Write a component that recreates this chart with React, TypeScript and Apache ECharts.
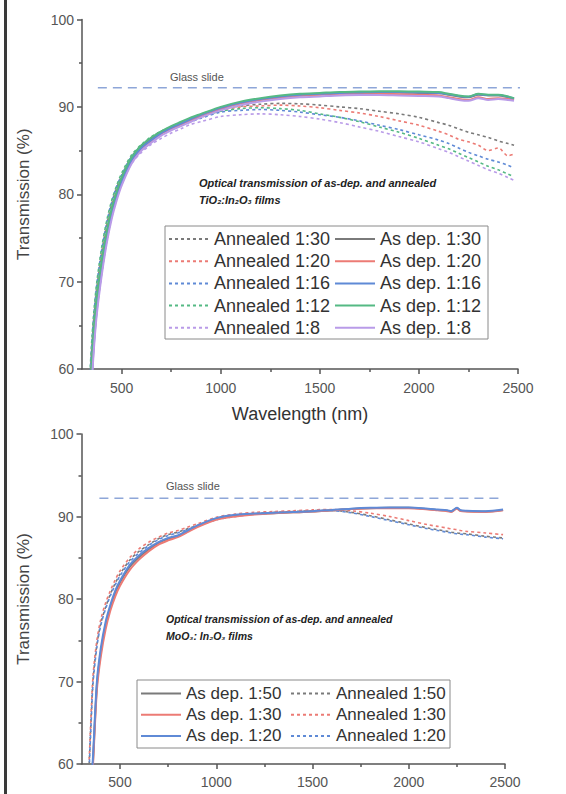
import React, { useEffect, useRef } from "react";
import * as echarts from "echarts";

// ---------- Top chart (TiO2:In2O3) ----------
const wlTop = [340, 350, 360, 375, 400, 425, 450, 475, 500, 550, 600, 650, 700, 750, 800, 850, 900, 1000, 1100, 1200, 1300, 1400, 1500, 1600, 1700, 1800, 1900, 2000, 2100, 2150, 2200, 2250, 2300, 2350, 2400, 2450, 2480];

const topAnn130 = [58.5, 62.5, 65.8, 69.3, 73.4, 76.5, 78.9, 80.7, 82.1, 84.3, 85.6, 86.5, 87.2, 87.7, 88.1, 88.5, 88.9, 89.7, 90.1, 90.3, 90.4, 90.35, 90.2, 90.0, 89.8, 89.5, 89.2, 88.8, 88.2, 87.9, 87.5, 87.1, 86.8, 86.5, 86.1, 85.8, 85.6];
const topAnn120 = [58.0, 62.0, 65.3, 68.9, 73.0, 76.2, 78.6, 80.5, 81.9, 84.1, 85.4, 86.3, 87.0, 87.5, 88.0, 88.4, 88.8, 89.6, 90.0, 90.1, 90.2, 90.1, 89.9, 89.6, 89.3, 88.9, 88.4, 87.9, 87.2, 86.8, 86.3, 86.0, 85.6, 85.0, 85.3, 84.4, 84.6];
const topAnn116 = [59.0, 63.0, 66.2, 69.7, 73.7, 76.8, 79.1, 80.9, 82.2, 84.3, 85.5, 86.4, 87.0, 87.5, 87.9, 88.3, 88.7, 89.4, 89.6, 89.7, 89.6, 89.4, 89.1, 88.8, 88.4, 87.9, 87.4, 86.8, 86.2, 85.8, 85.3, 84.8, 84.4, 84.0, 83.7, 83.3, 83.0];
const topAnn112 = [59.5, 63.5, 66.6, 70.0, 74.0, 77.0, 79.3, 81.0, 82.4, 84.5, 85.7, 86.6, 87.2, 87.7, 88.1, 88.5, 88.9, 89.5, 89.8, 89.9, 89.8, 89.6, 89.2, 88.8, 88.3, 87.7, 87.1, 86.4, 85.6, 85.2, 84.7, 84.2, 83.7, 83.2, 82.8, 82.3, 82.0];
const topAnn18 = [57.5, 61.5, 64.8, 68.4, 72.5, 75.7, 78.1, 79.9, 81.3, 83.5, 84.8, 85.7, 86.4, 87.0, 87.5, 88.0, 88.3, 88.9, 89.1, 89.2, 89.1, 88.9, 88.6, 88.2, 87.7, 87.2, 86.6, 86.0, 85.2, 84.8, 84.3, 83.8, 83.3, 82.8, 82.4, 81.9, 81.6];

const topDep130 = [56.0, 60.5, 64.0, 67.8, 72.0, 75.3, 78.0, 80.0, 81.6, 84.0, 85.4, 86.3, 87.0, 87.6, 88.1, 88.6, 89.0, 89.8, 90.4, 90.8, 91.1, 91.3, 91.45, 91.55, 91.6, 91.65, 91.65, 91.6, 91.55, 91.4, 91.2, 91.1, 91.4, 91.3, 91.3, 91.1, 90.9];
const topDep120 = [55.0, 59.5, 63.2, 67.0, 71.3, 74.8, 77.5, 79.6, 81.2, 83.7, 85.2, 86.1, 86.9, 87.5, 88.0, 88.5, 89.0, 89.8, 90.4, 90.8, 91.1, 91.3, 91.4, 91.5, 91.5, 91.5, 91.45, 91.4, 91.3, 91.1, 90.9, 90.8, 91.1, 90.9, 91.0, 90.9, 90.8];
const topDep116 = [54.5, 59.0, 62.8, 66.8, 71.2, 74.8, 77.6, 79.7, 81.4, 83.9, 85.3, 86.2, 87.0, 87.6, 88.1, 88.6, 89.1, 89.9, 90.5, 90.9, 91.2, 91.4, 91.5, 91.6, 91.65, 91.7, 91.7, 91.65, 91.6, 91.45, 91.25, 91.15, 91.45, 91.35, 91.35, 91.15, 90.95];
const topDep112 = [56.5, 61.0, 64.5, 68.3, 72.5, 75.8, 78.4, 80.3, 81.9, 84.2, 85.6, 86.5, 87.2, 87.8, 88.3, 88.8, 89.2, 90.0, 90.6, 91.0, 91.3, 91.5, 91.6, 91.7, 91.75, 91.8, 91.8, 91.75, 91.7, 91.5, 91.3, 91.2, 91.5, 91.4, 91.4, 91.2, 91.0];
const topDep18 = [54.0, 58.5, 62.3, 66.3, 70.8, 74.4, 77.2, 79.3, 81.0, 83.5, 85.0, 85.9, 86.7, 87.3, 87.8, 88.3, 88.8, 89.6, 90.2, 90.6, 90.9, 91.1, 91.2, 91.3, 91.35, 91.35, 91.3, 91.25, 91.2, 91.0, 90.8, 90.7, 91.0, 90.8, 90.9, 90.8, 90.7];

const topGlassX = [380, 2570];
const topGlassY = [92.2, 92.2];

// ---------- Bottom chart (MoO3:In2O3) ----------
const wlBot = [340, 350, 360, 380, 400, 425, 450, 475, 500, 550, 600, 650, 700, 750, 800, 850, 900, 1000, 1100, 1200, 1300, 1400, 1500, 1600, 1700, 1800, 1900, 2000, 2100, 2150, 2200, 2220, 2250, 2270, 2300, 2400, 2490];

const botDep150 = [52.0, 56.5, 60.5, 69.5, 73.5, 76.8, 79.0, 80.7, 82.0, 83.9, 85.1, 86.0, 86.8, 87.3, 87.6, 88.2, 88.8, 89.7, 90.1, 90.3, 90.4, 90.5, 90.6, 90.75, 90.9, 91.0, 91.05, 91.05, 90.9, 90.8, 90.7, 90.6, 91.0, 90.7, 90.65, 90.6, 90.8];
const botDep130 = [51.5, 56.0, 60.0, 69.0, 73.0, 76.3, 78.6, 80.3, 81.6, 83.5, 84.8, 85.8, 86.6, 87.1, 87.5, 88.1, 88.7, 89.6, 90.0, 90.25, 90.4, 90.5, 90.6, 90.75, 90.9, 91.0, 91.0, 91.0, 90.85, 90.75, 90.65, 90.55, 90.95, 90.65, 90.6, 90.55, 90.75];
const botDep120 = [52.5, 57.0, 61.0, 70.0, 74.0, 77.2, 79.3, 81.0, 82.2, 84.1, 85.3, 86.2, 86.9, 87.4, 87.7, 88.3, 88.9, 89.8, 90.2, 90.35, 90.45, 90.55, 90.65, 90.8, 90.95, 91.05, 91.1, 91.1, 90.95, 90.85, 90.75, 90.65, 91.05, 90.75, 90.7, 90.65, 90.85];

const botAnn150 = [60.0, 65.5, 70.2, 74.5, 77.0, 79.0, 80.6, 81.9, 83.0, 84.7, 85.8, 86.6, 87.3, 87.8, 88.1, 88.5, 88.9, 89.7, 90.1, 90.35, 90.5, 90.6, 90.7, 90.75, 90.5, 90.1, 89.6, 89.1, 88.6, 88.4, 88.2, 88.1, 88.0, 87.95, 87.9, 87.6, 87.4];
const botAnn130 = [60.5, 66.0, 70.7, 75.0, 77.5, 79.5, 81.0, 82.3, 83.4, 85.0, 86.1, 86.9, 87.5, 88.0, 88.3, 88.7, 89.1, 89.9, 90.3, 90.5, 90.6, 90.7, 90.8, 90.85, 90.7, 90.4, 90.0, 89.5, 89.0, 88.8, 88.6, 88.5, 88.4, 88.3, 88.2, 88.0, 87.8];
const botAnn120 = [59.5, 65.0, 69.8, 74.2, 76.8, 78.8, 80.4, 81.7, 82.8, 84.5, 85.6, 86.5, 87.2, 87.7, 88.0, 88.4, 88.8, 89.6, 90.0, 90.3, 90.45, 90.55, 90.65, 90.7, 90.45, 90.0, 89.5, 89.0, 88.5, 88.3, 88.1, 88.0, 87.9, 87.85, 87.8, 87.5, 87.3];

const botGlassX = [393, 2470];
const botGlassY = [92.2, 92.2];

// ---------- Axis tick labels / legend names ----------
const xLabels = [500, 1000, 1500, 2000, 2500];
const xMinor = [750, 1250, 1750, 2250];
const topLegendAnn = ["Annealed 1:30", "Annealed 1:20", "Annealed 1:16", "Annealed 1:12", "Annealed 1:8"];
const topLegendDep = ["As dep. 1:30", "As dep. 1:20", "As dep. 1:16", "As dep. 1:12", "As dep. 1:8"];
const botLegendDep = ["As dep. 1:50", "As dep. 1:30", "As dep. 1:20"];
const botLegendAnn = ["Annealed 1:50", "Annealed 1:30", "Annealed 1:20"];
const BOT = "MoO3 ";

const FONT = "'Liberation Sans', Arial, sans-serif";
const AX = "#555";

const C = {
  gray: "#7a7a7a",
  red: "#ec7b75",
  blue: "#5f8ad6",
  green: "#55b984",
  purple: "#b99be8",
  glass: "#8ea6d8",
};

function pair(xs: number[], ys: number[]) {
  return xs.map((x, i) => [x, ys[i]]);
}

function line(name: string, grid: number, xs: number[], ys: number[], color: string, dashed: boolean) {
  return {
    type: "line",
    name,
    xAxisIndex: grid === 0 ? 0 : 2,
    yAxisIndex: grid,
    data: pair(xs, ys),
    symbol: "none",
    showSymbol: false,
    smooth: 0.3,
    lineStyle: { color, width: dashed ? 1.6 : 2, type: dashed ? [3, 3] : "solid" },
    itemStyle: { color },
    z: dashed ? 2 : 3,
  };
}

function xAxisMain(grid: number, name: string, labelMargin: number) {
  return {
    gridIndex: grid,
    type: "value",
    min: 300,
    max: 2500,
    position: "bottom",
    axisLine: { show: true, lineStyle: { color: AX, width: 1.5 } },
    axisTick: { show: true, customValues: xLabels, length: 5, lineStyle: { color: AX, width: 1.5 } },
    axisLabel: { customValues: xLabels, fontSize: 14, color: "#555", margin: labelMargin, fontFamily: FONT, formatter: (v: number) => String(v) },
    splitLine: { show: false },
    name,
    nameLocation: "middle",
    nameGap: 36,
    nameTextStyle: { fontSize: 18, color: "#333", fontFamily: FONT },
  };
}

function xAxisMinor(grid: number) {
  return {
    gridIndex: grid,
    type: "value",
    min: 300,
    max: 2500,
    position: "bottom",
    axisLine: { show: false },
    axisTick: { show: true, customValues: xMinor, length: 3, lineStyle: { color: AX, width: 1.5 } },
    axisLabel: { show: false },
    splitLine: { show: false },
  };
}

function yAxis(grid: number) {
  return {
    gridIndex: grid,
    type: "value",
    min: 60,
    max: 100,
    interval: 10,
    axisLine: { show: true, lineStyle: { color: AX, width: 1.5 } },
    axisTick: { show: true, length: 5, lineStyle: { color: AX, width: 1.5 } },
    minorTick: { show: true, splitNumber: 2, length: 3, lineStyle: { color: AX, width: 1.5 } },
    axisLabel: { fontSize: 14, color: "#555", margin: 8, fontFamily: FONT },
    splitLine: { show: false },
    minorSplitLine: { show: false },
    name: "Transmission (%)",
    nameLocation: "middle",
    nameGap: 50,
    nameTextStyle: { fontSize: 17, color: "#444", fontFamily: FONT },
  };
}

function legend(data: string[], left: number, top: number, h: number, fs: number, strip: boolean) {
  return {
    data,
    orient: "vertical",
    left,
    top,
    padding: 0,
    itemWidth: 40,
    itemHeight: h,
    itemGap: 0.2,
    selectedMode: false,
    itemStyle: { opacity: 0, borderWidth: 0 },
    formatter: strip ? (n: string) => n.replace(BOT, "") : undefined,
    textStyle: { fontSize: fs, lineHeight: h, color: "#333", fontFamily: FONT },
  };
}

function glass(grid: number, xs: number[], ys: number[]) {
  return {
    type: "line",
    name: "Glass slide " + grid,
    xAxisIndex: grid === 0 ? 0 : 2,
    yAxisIndex: grid,
    data: pair(xs, ys),
    symbol: "none",
    clip: false,
    lineStyle: { color: C.glass, width: 1.5, type: [9, 6] },
    z: 1,
  };
}

const boldItalic = { fontWeight: "bold", fontStyle: "italic", fill: "#222", fontFamily: FONT, verticalAlign: "middle" };

const option = {
  animation: false,
  backgroundColor: "#fff",
  grid: [
    { left: 82, top: 19.5, width: 436, height: 349.5 },
    { left: 81.5, top: 434, width: 423.5, height: 330 },
  ],
  xAxis: [
    xAxisMain(0, "Wavelength (nm)", 12),
    xAxisMinor(0),
    xAxisMain(1, "", 11),
    xAxisMinor(1),
  ],
  yAxis: [yAxis(0), yAxis(1)],
  legend: [
    legend(topLegendAnn, 168, 228, 22, 18, false),
    legend(topLegendDep, 334, 228, 22, 18, false),
    legend(botLegendDep.map((n) => BOT + n), 140, 683, 21, 17, true),
    legend(botLegendAnn.map((n) => BOT + n), 290, 683, 21, 17, true),
  ],
  graphic: [
    { type: "rect", left: 4, top: 0, shape: { width: 3, height: 794 }, style: { fill: "#3a3a3a" } },
    { type: "rect", shape: { x: 165, y: 226, width: 323, height: 113 }, style: { fill: "none", stroke: "#8a8a8a", lineWidth: 1 }, z: 10 },
    { type: "rect", shape: { x: 137, y: 680, width: 313, height: 68 }, style: { fill: "none", stroke: "#8a8a8a", lineWidth: 1 }, z: 10 },
    { type: "text", x: 170, y: 77, style: { text: "Glass slide", fontSize: 11, fill: "#555", fontFamily: FONT, verticalAlign: "middle" } },
    { type: "text", x: 166, y: 486, style: { text: "Glass slide", fontSize: 11, fill: "#555", fontFamily: FONT, verticalAlign: "middle" } },
    { type: "text", x: 199, y: 183, style: { text: "Optical transmission of as-dep. and annealed", fontSize: 11, ...boldItalic } },
    { type: "text", x: 199, y: 200, style: { text: "TiO₂:In₂O₃ films", fontSize: 11, ...boldItalic } },
    { type: "text", x: 166, y: 619, style: { text: "Optical transmission of as-dep. and annealed", fontSize: 10.5, ...boldItalic } },
    { type: "text", x: 166, y: 636, style: { text: "MoO₃: In₂O₃ films", fontSize: 10.5, ...boldItalic } },
  ],
  series: [
    glass(0, topGlassX, topGlassY),
    glass(1, botGlassX, botGlassY),
    line("Annealed 1:30", 0, wlTop, topAnn130, C.gray, true),
    line("Annealed 1:20", 0, wlTop, topAnn120, C.red, true),
    line("Annealed 1:16", 0, wlTop, topAnn116, C.blue, true),
    line("Annealed 1:12", 0, wlTop, topAnn112, C.green, true),
    line("Annealed 1:8", 0, wlTop, topAnn18, C.purple, true),
    line("As dep. 1:30", 0, wlTop, topDep130, C.gray, false),
    line("As dep. 1:20", 0, wlTop, topDep120, C.red, false),
    line("As dep. 1:16", 0, wlTop, topDep116, C.blue, false),
    line("As dep. 1:12", 0, wlTop, topDep112, C.green, false),
    line("As dep. 1:8", 0, wlTop, topDep18, C.purple, false),
    line(BOT + "Annealed 1:50", 1, wlBot, botAnn150, C.gray, true),
    line(BOT + "Annealed 1:30", 1, wlBot, botAnn130, C.red, true),
    line(BOT + "Annealed 1:20", 1, wlBot, botAnn120, C.blue, true),
    line(BOT + "As dep. 1:50", 1, wlBot, botDep150, C.gray, false),
    line(BOT + "As dep. 1:30", 1, wlBot, botDep130, C.red, false),
    line(BOT + "As dep. 1:20", 1, wlBot, botDep120, C.blue, false),
  ],
};

export default function App() {
  const ref = useRef<HTMLDivElement>(null);
  useEffect(() => {
    document.body.style.margin = "0";
    const chart = echarts.init(ref.current!, null, { renderer: "svg" });
    chart.setOption(option as any);
    return () => chart.dispose();
  }, []);
  return <div ref={ref} style={{ width: 566, height: 794 }} />;
}
